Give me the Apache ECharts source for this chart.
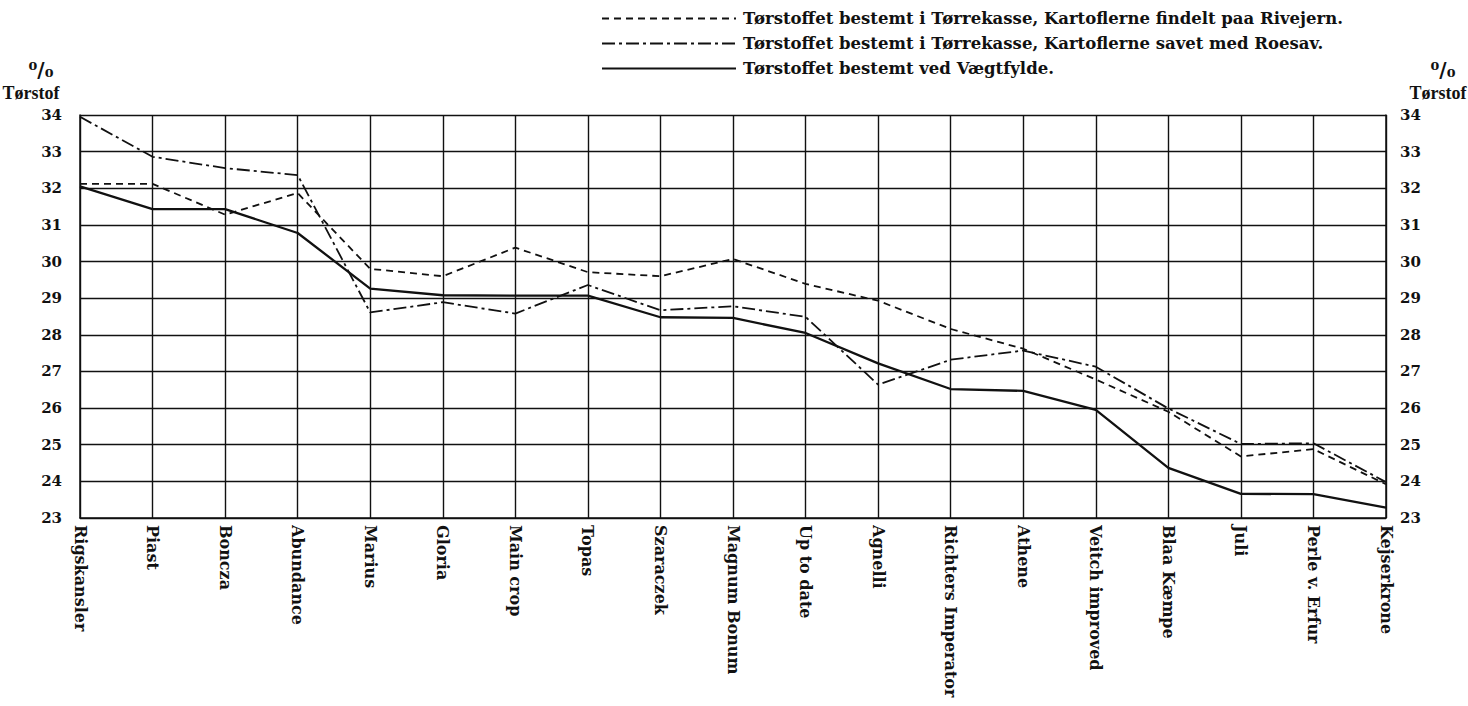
<!DOCTYPE html>
<html>
<head>
<meta charset="utf-8">
<script src="https://cdn.jsdelivr.net/npm/echarts@6/dist/echarts.min.js"></script>
<style>
html,body{margin:0;padding:0;background:#fff;}
#chart{width:1468px;height:706px;}
</style>
</head>
<body>
<div id="chart"></div>
<script>
const categories = ["Rigskansler","Piast","Boncza","Abundance","Marius","Gloria","Main crop","Topas","Szaraczek","Magnum Bonum","Up to date","Agnelli","Richters Imperator","Athene","Veitch improved","Blaa Kæmpe","Juli","Perle v. Erfur","Kejserkrone"];

const rivejern = [32.12,32.12,31.28,31.87,29.80,29.60,30.38,29.71,29.60,30.07,29.39,28.93,28.16,27.62,26.78,25.90,24.68,24.88,23.92];
const roesav = [33.95,32.86,32.55,32.36,28.61,28.89,28.58,29.36,28.67,28.78,28.49,26.64,27.32,27.57,27.13,25.99,25.02,25.04,23.98];
const vaegtfylde = [32.05,31.43,31.43,30.78,29.26,29.08,29.07,29.07,28.48,28.46,28.05,27.22,26.52,26.47,25.95,24.37,23.66,23.65,23.28];

const seriesNames = [
  "Tørstoffet bestemt i Tørrekasse, Kartoflerne findelt paa Rivejern.",
  "Tørstoffet bestemt i Tørrekasse, Kartoflerne savet med Roesav.",
  "Tørstoffet bestemt ved Vægtfylde."
];
const yMin = 23, yMax = 34, yStep = 1;
const axisUnit = "⁰/₀";
const axisTitle = "Tørstof";

const FONT = "'DejaVu Serif', serif";
const INK = '#111';

const chart = echarts.init(document.getElementById('chart'), null, {renderer: 'svg'});
chart.setOption({
  backgroundColor: '#fff',
  animation: false,
  legend: {
    orient: 'vertical',
    left: 596,
    top: 5,
    itemWidth: 134,
    itemHeight: 14,
    itemGap: 8,
    data: seriesNames,
    itemStyle: {opacity: 0},
    textStyle: {fontFamily: FONT, fontWeight: 'bold', fontSize: 16.5, color: INK, padding: [0,0,0,2]}
  },
  grid: {left: 80, right: 82, top: 115, bottom: 188},
  xAxis: {
    type: 'category',
    data: categories,
    boundaryGap: false,
    axisLine: {show: true, lineStyle: {color: INK, width: 1.5}},
    axisTick: {show: false},
    splitLine: {show: true, lineStyle: {color: INK, width: 1.4}},
    axisLabel: {
      rotate: -90, interval: 0, margin: 7,
      fontFamily: FONT, fontWeight: 'bold', fontSize: 16, color: INK
    }
  },
  yAxis: [
    {
      type: 'value', min: yMin, max: yMax, interval: yStep, position: 'left',
      axisLine: {show: true, lineStyle: {color: INK, width: 1.5}},
      axisTick: {show: false},
      splitLine: {show: true, lineStyle: {color: INK, width: 1.4}},
      axisLabel: {margin: 18, fontFamily: FONT, fontWeight: 'bold', fontSize: 15, color: INK}
    },
    {
      type: 'value', min: yMin, max: yMax, interval: yStep, position: 'right',
      axisLine: {show: true, lineStyle: {color: INK, width: 1.5}},
      axisTick: {show: false},
      splitLine: {show: false},
      axisLabel: {margin: 14, fontFamily: FONT, fontWeight: 'bold', fontSize: 15, color: INK}
    }
  ],
  graphic: [
    {type: 'text', x: 41, y: 80, style: {text: axisUnit, font: "bold 20px 'DejaVu Serif', serif", fill: INK, align: 'center', verticalAlign: 'bottom', lineHeight: 20}},
    {type: 'text', x: 31, y: 84, style: {text: axisTitle, font: "bold 18px 'Liberation Serif', serif", fill: INK, align: 'center', verticalAlign: 'top', lineHeight: 18}},
    {type: 'text', x: 1443, y: 80, style: {text: axisUnit, font: "bold 20px 'DejaVu Serif', serif", fill: INK, align: 'center', verticalAlign: 'bottom', lineHeight: 20}},
    {type: 'text', x: 1438, y: 84, style: {text: axisTitle, font: "bold 18px 'Liberation Serif', serif", fill: INK, align: 'center', verticalAlign: 'top', lineHeight: 18}}
  ],
  series: [
    {name: seriesNames[0], type: 'line', data: rivejern, symbol: 'none',
     itemStyle: {color: INK},
     lineStyle: {color: INK, width: 1.8, type: [7, 5]}},
    {name: seriesNames[1], type: 'line', data: roesav, symbol: 'none',
     itemStyle: {color: INK},
     lineStyle: {color: INK, width: 1.8, type: [13, 4, 3, 4]}},
    {name: seriesNames[2], type: 'line', data: vaegtfylde, symbol: 'none',
     itemStyle: {color: INK},
     lineStyle: {color: INK, width: 2.3, type: 'solid'}}
  ]
});
</script>
</body>
</html>
